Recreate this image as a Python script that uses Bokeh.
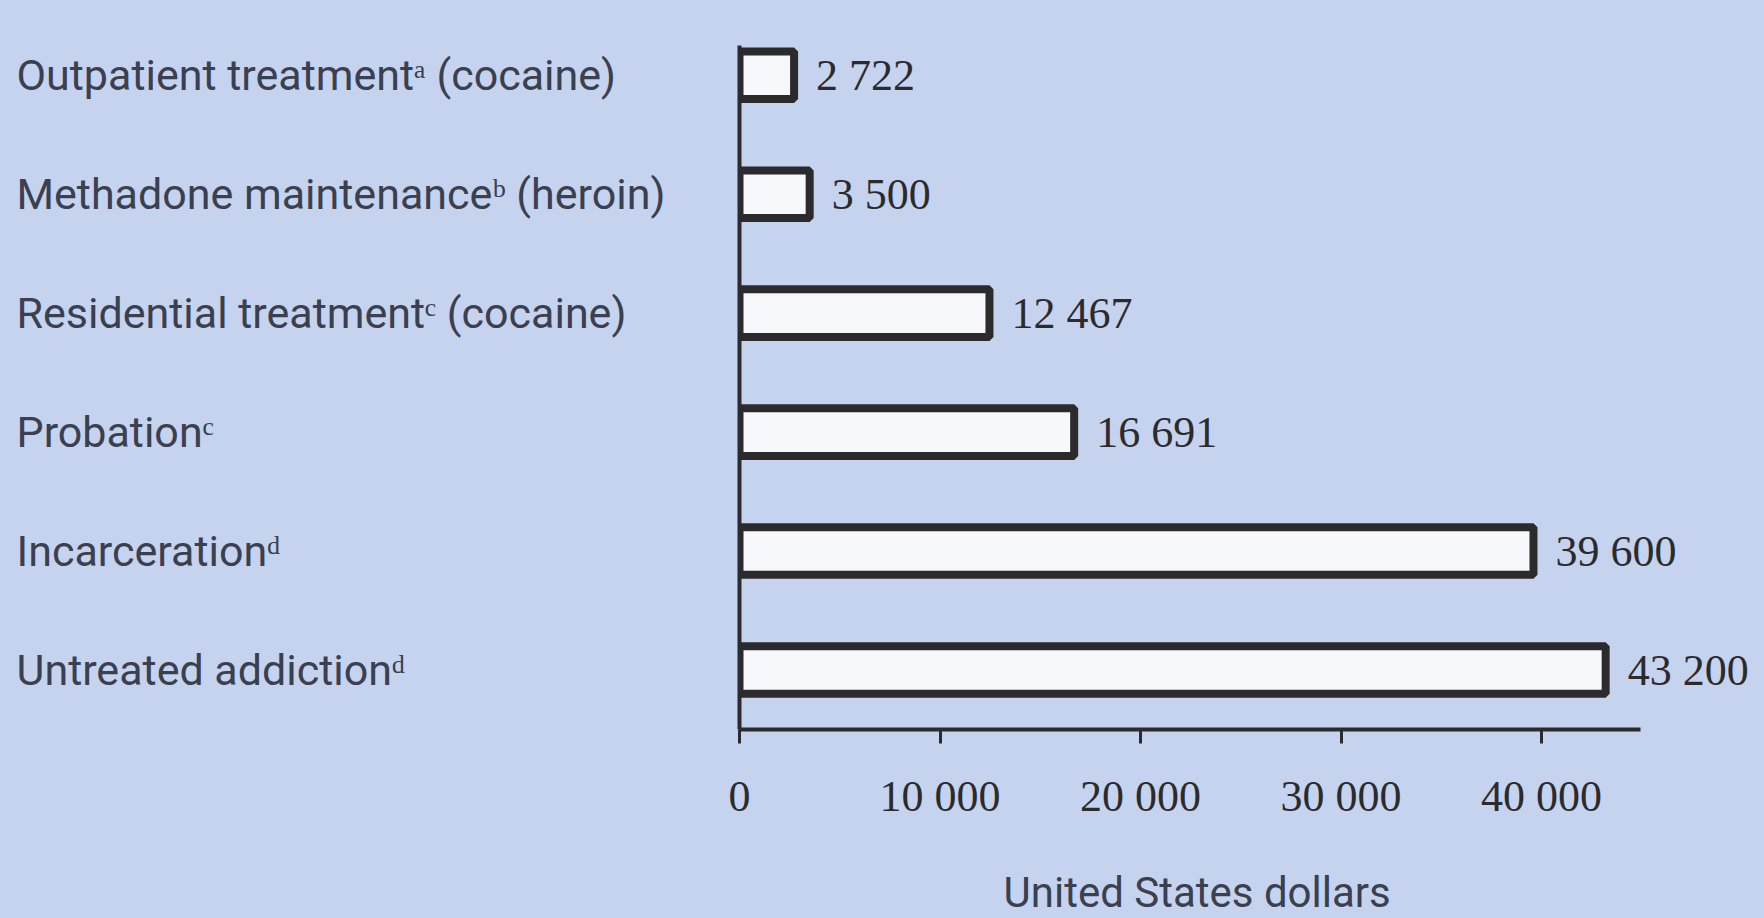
from bokeh.plotting import figure
from bokeh.layouts import row
from bokeh.models import ColumnDataSource, Range1d, FixedTicker, LabelSet, Title, LinearAxis
from bokeh.core.properties import value
from bokeh.embed import file_html
from bokeh.resources import INLINE

# ---- data ----
categories = [
    "Outpatient treatmentᵃ (cocaine)",
    "Methadone maintenanceᵇ (heroin)",
    "Residential treatmentᶜ (cocaine)",
    "Probationᶜ",
    "Incarcerationᵈ",
    "Untreated addictionᵈ",
]
costs = [2722, 3500, 12467, 16691, 39600, 43200]
cost_labels = ["2 722", "3 500", "12 467", "16 691", "39 600", "43 200"]
x_ticks = [0, 10000, 20000, 30000, 40000]
x_tick_labels = ["0", "10 000", "20 000", "30 000", "40 000"]
x_axis_title = "United States dollars"

# ---- style ----
BG = "#c5d3ef"
SANS = "Roboto"
SERIF = "Liberation Serif"
INK = "#2b2b2e"
LABEL_INK = "#3a4050"

positions = list(range(len(categories)))
src = ColumnDataSource(dict(y=positions, cat=categories, cost=costs, lab=cost_labels))

H = 918
TOP = 45
BOTTOM = 189
y_range = Range1d(start=5.5, end=-0.25)

left = figure(width=700, height=H, x_range=Range1d(0, 1), y_range=y_range,
              output_backend="svg", toolbar_location=None,
              x_axis_location=None, y_axis_location=None,
              min_border_top=TOP, min_border_bottom=BOTTOM,
              min_border_left=0, min_border_right=0)
left.grid.visible = False
left.outline_line_color = None
left.background_fill_color = BG
left.border_fill_color = BG
left.text(x=0, y="y", text="cat", source=src, x_offset=16,
          text_align="left", text_baseline="middle",
          text_font=value(SANS), text_font_size="43px", text_color=LABEL_INK)

right = figure(width=1064, height=H, x_range=Range1d(0, 51122), y_range=y_range,
               output_backend="svg", toolbar_location=None,
               min_border_top=TOP, min_border_bottom=BOTTOM,
               min_border_left=39, min_border_right=0)
right.grid.visible = False
right.outline_line_color = None
right.background_fill_color = BG
right.border_fill_color = BG

right.hbar(y="y", left=0, right="cost", height=0.40, source=src,
           fill_color="#f7f8fb", line_color=INK, line_width=8)

ya = right.yaxis[0]
ya.ticker = FixedTicker(ticks=[])
ya.major_tick_out = 0
ya.major_tick_in = 0
ya.minor_tick_out = 0
ya.minor_tick_in = 0
ya.axis_line_width = 4
ya.axis_line_color = INK

xa = right.xaxis[0]
xa.bounds = (0, 44940)
xa.ticker = FixedTicker(ticks=x_ticks)
xa.major_label_overrides = {t: l for t, l in zip(x_ticks, x_tick_labels)}
xa.major_tick_out = 14
xa.major_tick_in = 0
xa.major_tick_line_width = 3
xa.major_tick_line_color = INK
xa.minor_tick_out = 0
xa.minor_tick_in = 0
xa.axis_line_width = 4
xa.axis_line_color = INK
xa.major_label_text_font = SERIF
xa.major_label_text_font_size = "44px"
xa.major_label_text_color = INK
xa.major_label_text_line_height = 1.0
xa.major_label_standoff = 28

# invisible spacer axis (one hidden tick, empty label): pushes the axis title down
spacer = LinearAxis(ticker=FixedTicker(ticks=[x_ticks[0]]), axis_line_color=None,
                    major_tick_out=40, major_tick_in=0, major_tick_line_color=None,
                    minor_tick_out=0, minor_tick_in=0, major_label_standoff=0,
                    major_label_overrides={x_ticks[0]: ""},
                    major_label_text_font_size="1px", major_label_text_line_height=1.0)
right.add_layout(spacer, "below")

title = Title(text=x_axis_title, align="left", offset=264, standoff=4,
              text_font=SANS, text_font_size="42px", text_font_style="normal",
              text_color=LABEL_INK, text_line_height=1.0)
right.add_layout(title, "below")

labels = LabelSet(x="cost", y="y", text="lab", source=src, x_offset=22,
                  text_align="left", text_baseline="middle",
                  text_font=value(SERIF), text_font_size="44px", text_color=INK)
right.add_layout(labels)

layout = row(left, right, spacing=0)
layout.styles = {"background-color": BG}

open("out.html", "w").write(file_html(layout, INLINE))
